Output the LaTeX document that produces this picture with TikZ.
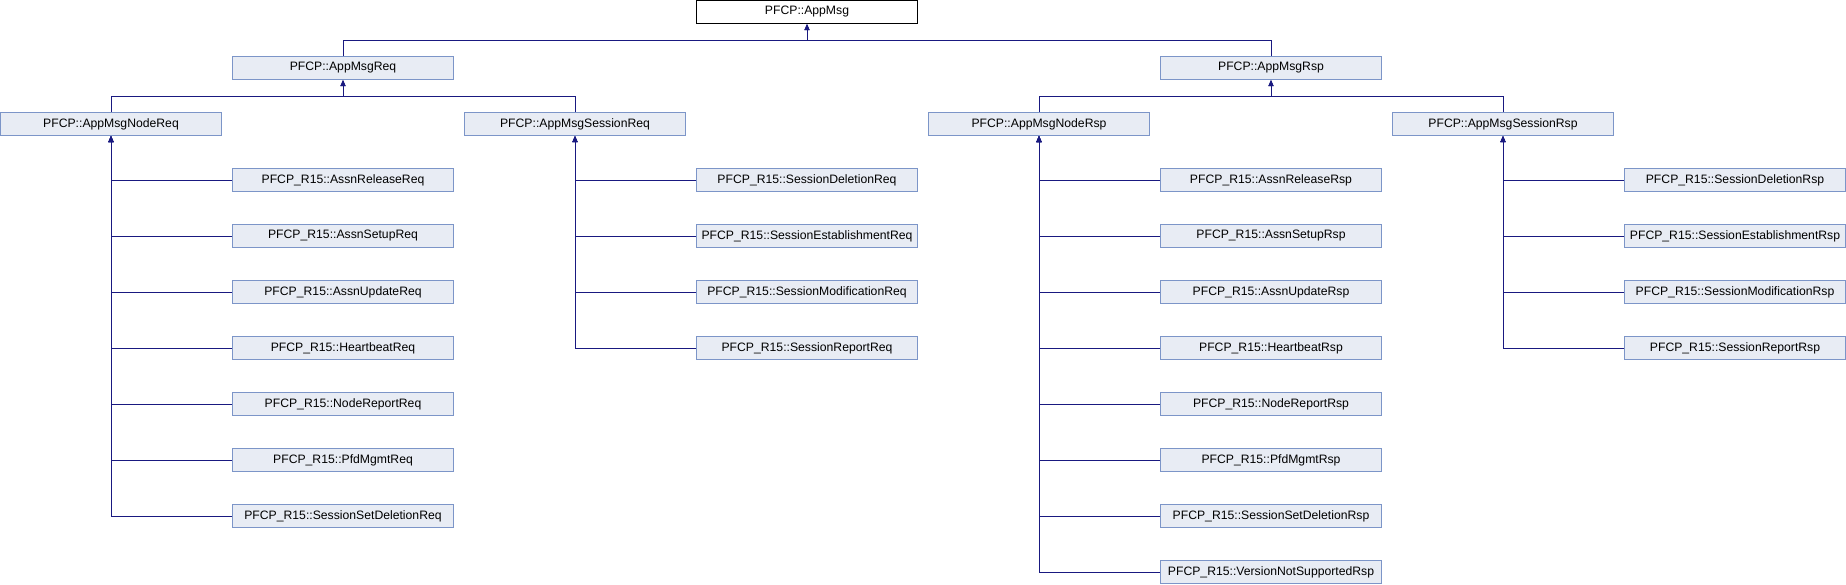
\documentclass[tikz,border=0pt]{standalone}
\usepackage{fontspec}
\setmainfont{Liberation Sans}
\usetikzlibrary{arrows.meta}
\definecolor{boxfill}{RGB}{232,236,244}
\definecolor{boxline}{RGB}{124,149,200}
\definecolor{edgecol}{RGB}{25,25,128}
\tikzset{
  cls/.style={draw=boxline, fill=boxfill, line width=1pt, minimum width=221pt, minimum height=23pt, inner sep=0pt, font=\fontsize{12.2pt}{14pt}\selectfont},
  rootcls/.style={cls, draw=black, fill=white},
  edge/.style={draw=edgecol, line width=1pt, -{Triangle[length=6pt,width=5pt]}},
}
\begin{document}
\begin{tikzpicture}[x=1pt,y=-1pt]
\useasboundingbox (0,0) rectangle (1846,584);
% level 0
\node[rootcls] (root) at (807,12) {PFCP::AppMsg};
% level 1
\node[cls] (req) at (343,68) {PFCP::AppMsgReq};
\node[cls] (rsp) at (1271,68) {PFCP::AppMsgRsp};
% level 2
\node[cls] (nodereq) at (111,124) {PFCP::AppMsgNodeReq};
\node[cls] (sessreq) at (575,124) {PFCP::AppMsgSessionReq};
\node[cls] (nodersp) at (1039,124) {PFCP::AppMsgNodeRsp};
\node[cls] (sessrsp) at (1503,124) {PFCP::AppMsgSessionRsp};
% node req children
\node[cls] (nq1) at (343,180) {PFCP\_R15::AssnReleaseReq};
\node[cls] (nq2) at (343,236) {PFCP\_R15::AssnSetupReq};
\node[cls] (nq3) at (343,292) {PFCP\_R15::AssnUpdateReq};
\node[cls] (nq4) at (343,348) {PFCP\_R15::HeartbeatReq};
\node[cls] (nq5) at (343,404) {PFCP\_R15::NodeReportReq};
\node[cls] (nq6) at (343,460) {PFCP\_R15::PfdMgmtReq};
\node[cls] (nq7) at (343,516) {PFCP\_R15::SessionSetDeletionReq};
% session req children
\node[cls] (sq1) at (807,180) {PFCP\_R15::SessionDeletionReq};
\node[cls] (sq2) at (807,236) {PFCP\_R15::SessionEstablishmentReq};
\node[cls] (sq3) at (807,292) {PFCP\_R15::SessionModificationReq};
\node[cls] (sq4) at (807,348) {PFCP\_R15::SessionReportReq};
% node rsp children
\node[cls] (nr1) at (1271,180) {PFCP\_R15::AssnReleaseRsp};
\node[cls] (nr2) at (1271,236) {PFCP\_R15::AssnSetupRsp};
\node[cls] (nr3) at (1271,292) {PFCP\_R15::AssnUpdateRsp};
\node[cls] (nr4) at (1271,348) {PFCP\_R15::HeartbeatRsp};
\node[cls] (nr5) at (1271,404) {PFCP\_R15::NodeReportRsp};
\node[cls] (nr6) at (1271,460) {PFCP\_R15::PfdMgmtRsp};
\node[cls] (nr7) at (1271,516) {PFCP\_R15::SessionSetDeletionRsp};
\node[cls] (nr8) at (1271,572) {PFCP\_R15::VersionNotSupportedRsp};
% session rsp children
\node[cls] (sr1) at (1735,180) {PFCP\_R15::SessionDeletionRsp};
\node[cls] (sr2) at (1735,236) {PFCP\_R15::SessionEstablishmentRsp};
\node[cls] (sr3) at (1735,292) {PFCP\_R15::SessionModificationRsp};
\node[cls] (sr4) at (1735,348) {PFCP\_R15::SessionReportRsp};
% bus edges
\foreach \c/\p in {req/root, rsp/root, nodereq/req, sessreq/req, nodersp/rsp, sessrsp/rsp}
  \draw[edge] (\c.north) -- ++(0,-16) -| (\p.south);
% side edges
\foreach \c/\p in {nq1/nodereq, nq2/nodereq, nq3/nodereq, nq4/nodereq, nq5/nodereq, nq6/nodereq, nq7/nodereq,
                   sq1/sessreq, sq2/sessreq, sq3/sessreq, sq4/sessreq,
                   nr1/nodersp, nr2/nodersp, nr3/nodersp, nr4/nodersp, nr5/nodersp, nr6/nodersp, nr7/nodersp, nr8/nodersp,
                   sr1/sessrsp, sr2/sessrsp, sr3/sessrsp, sr4/sessrsp}
  \draw[edge] (\c.west) -| (\p.south);
\end{tikzpicture}
\end{document}
